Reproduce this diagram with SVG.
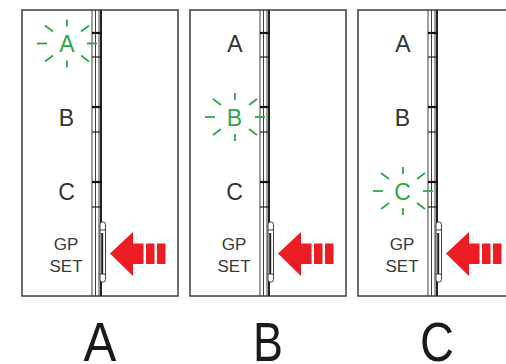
<svg xmlns="http://www.w3.org/2000/svg" xmlns:xlink="http://www.w3.org/1999/xlink" width="506" height="364" viewBox="0 0 506 364">
<style>
.frame{fill:#fff;stroke:#3c3c3c;stroke-width:1.5}
.rl{stroke:#3c3c3c;stroke-width:1;fill:none}
.rlk{stroke:#222;stroke-width:2;fill:none}
.tk{stroke:#222;stroke-width:1.2}
.tkb{stroke:#111;stroke-width:2.2}
.lbl{font-family:"Liberation Sans",Arial,sans-serif;font-size:23px;fill:#333;text-anchor:middle}
.lit{fill:#2aa84a}
.gp{font-family:"Liberation Sans",Arial,sans-serif;font-size:17px;fill:#3a3a3a;text-anchor:middle}
.ray{stroke:#2aa84a;stroke-width:1.8;stroke-linecap:butt}
.arrow{fill:#ec1c24}
.big{font-family:"Liberation Sans",Arial,sans-serif;font-size:56px;fill:#1a1a1a;text-anchor:middle}
</style>
<defs>
<g id="base">
<rect class="frame" x="22" y="10" width="156" height="286"/>
<line class="rl" x1="92" y1="10" x2="92" y2="296"/>
<line class="rl" x1="95.5" y1="10" x2="95.5" y2="296"/>
<line class="rl" x1="99" y1="10" x2="99" y2="296"/>
<line class="rlk" x1="101" y1="10" x2="101" y2="296"/>
<line class="tkb" x1="92" y1="33" x2="101" y2="33"/>
<line class="tk" x1="92" y1="57" x2="101" y2="57"/>
<line class="tkb" x1="92" y1="107" x2="101" y2="107"/>
<line class="tk" x1="92" y1="132" x2="101" y2="132"/>
<line class="tkb" x1="92" y1="182" x2="101" y2="182"/>
<line class="tk" x1="92" y1="207" x2="101" y2="207"/>
<rect x="100" y="222" width="5.5" height="60" rx="2.5" fill="#fff" stroke="#3c3c3c" stroke-width="1"/>
<line class="rl" x1="100" y1="230" x2="105.5" y2="230"/>
<line class="rl" x1="100" y1="274" x2="105.5" y2="274"/>
<line class="rlk" x1="102.2" y1="233" x2="102.2" y2="274"/>
<text class="gp" x="66" y="250">GP</text>
<text class="gp" x="66" y="272">SET</text>
<path class="arrow" d="M110,253.5 L133,232 L133,243.5 L143.5,243.5 L143.5,264 L133,264 L133,276 Z"/>
<rect class="arrow" x="146" y="243.5" width="8.5" height="20.5"/>
<rect class="arrow" x="157" y="243.5" width="8.5" height="20.5"/>
</g>
<g id="glow">
<line class="ray" x1="0" y1="-17" x2="0" y2="-24"/>
<line class="ray" x1="0" y1="17" x2="0" y2="24"/>
<line class="ray" x1="-20" y1="0" x2="-30" y2="0"/>
<line class="ray" x1="20" y1="0" x2="30" y2="0"/>
<line class="ray" x1="-14" y1="-12" x2="-22" y2="-18"/>
<line class="ray" x1="14" y1="-12" x2="22" y2="-18"/>
<line class="ray" x1="-14" y1="12" x2="-22" y2="18"/>
<line class="ray" x1="14" y1="12" x2="22" y2="18"/>
</g>
</defs>
<g id="panel-a">
<use xlink:href="#base"/>
<text class="lbl lit" x="67" y="52">A</text>
<use xlink:href="#glow" transform="translate(67,43.5)"/>
<text class="lbl" x="66.5" y="125.5">B</text>
<text class="lbl" x="66.5" y="199.5">C</text>
</g>
<g id="panel-b" transform="translate(168,0)">
<use xlink:href="#base"/>
<text class="lbl" x="67" y="52">A</text>
<text class="lbl lit" x="66.5" y="125.5">B</text>
<use xlink:href="#glow" transform="translate(67,117)"/>
<text class="lbl" x="66.5" y="199.5">C</text>
</g>
<g id="panel-c" transform="translate(336,0)">
<use xlink:href="#base"/>
<text class="lbl" x="67" y="52">A</text>
<text class="lbl" x="66.5" y="125.5">B</text>
<text class="lbl lit" x="66.5" y="199.5">C</text>
<use xlink:href="#glow" transform="translate(67,191)"/>
</g>
<g id="captions">
<text class="big" transform="translate(100,361) scale(0.88,1)">A</text>
<text class="big" transform="translate(268,361) scale(0.8,1)">B</text>
<text class="big" transform="translate(437,361) scale(0.84,1)">C</text>
</g>
</svg>
